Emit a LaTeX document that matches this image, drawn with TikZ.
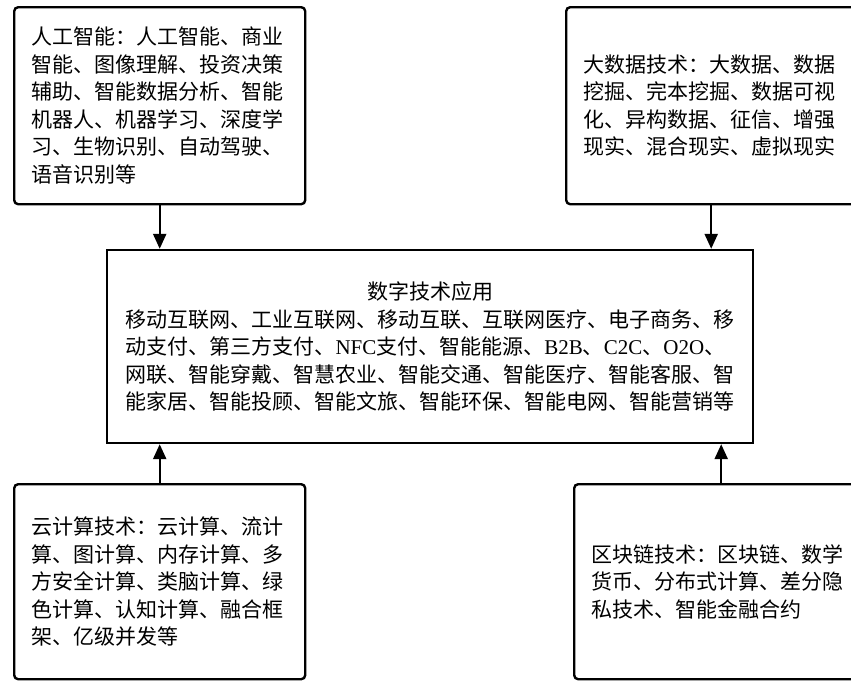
\documentclass[tikz,border=0pt]{standalone}
\usepackage{fontspec}
\setmainfont{Noto Sans CJK SC}
\newfontfamily\latinfont{Liberation Serif}
\usetikzlibrary{arrows.meta}

\begin{document}
\begin{tikzpicture}[x=1pt,y=-1pt,
    font=\fontsize{21pt}{27.5pt}\selectfont,
    techbox/.style={draw, line width=2.4pt, rounded corners=4pt, anchor=north west, align=left, inner xsep=17pt, inner ysep=0pt},
    appbox/.style={draw, line width=2.4pt, align=left, inner sep=0pt},
    flow/.style={line width=2.4pt, -{Triangle[length=15pt,width=13pt]}}]
    \useasboundingbox (0,0) rectangle (851,680);

    % Application box in the middle:
    \node [appbox, minimum width=646pt, minimum height=193pt, text width=609pt] (app) at (430,346.5) {\hbox to \hsize{\hfil 数字技术应用\hfil}\\
        移动互联网、工业互联网、移动互联、互联网医疗、电子商务、移\\
        动支付、第三方支付、{\latinfont NFC}支付、智能能源、{\latinfont B2B}、{\latinfont C2C}、{\latinfont O2O}、\\
        网联、智能穿戴、智慧农业、智能交通、智能医疗、智能客服、智\\
        能家居、智能投顾、智能文旅、智能环保、智能电网、智能营销等};

    % Technology boxes:
    % Top row feeds down into the application box, bottom row feeds up.
    \node [techbox, minimum width=291pt, minimum height=197pt, text width=257pt] (ai) at (13,6) {人工智能：人工智能、商业\\
        智能、图像理解、投资决策\\
        辅助、智能数据分析、智能\\
        机器人、机器学习、深度学\\
        习、生物识别、自动驾驶、\\
        语音识别等};
    \node [techbox, minimum width=290pt, minimum height=197pt, text width=256pt] (bigdata) at (565,6) {大数据技术：大数据、数据\\
        挖掘、完本挖掘、数据可视\\
        化、异构数据、征信、增强\\
        现实、混合现实、虚拟现实};
    \node [techbox, minimum width=291pt, minimum height=195pt, text width=257pt] (cloud) at (13,483) {云计算技术：云计算、流计\\
        算、图计算、内存计算、多\\
        方安全计算、类脑计算、绿\\
        色计算、认知计算、融合框\\
        架、亿级并发等};
    \node [techbox, minimum width=294pt, minimum height=195pt, text width=260pt] (chain) at (573,483) {区块链技术：区块链、数学\\
        货币、分布式计算、差分隐\\
        私技术、智能金融合约};

    % Arrows:
    \draw [flow] (ai.south) -- (ai.south |- app.north);
    \draw [flow] (bigdata.south) -- (bigdata.south |- app.north);
    \draw [flow] (cloud.north) -- (cloud.north |- app.south);
    \draw [flow] (chain.north) -- (chain.north |- app.south);
\end{tikzpicture}
\end{document}
